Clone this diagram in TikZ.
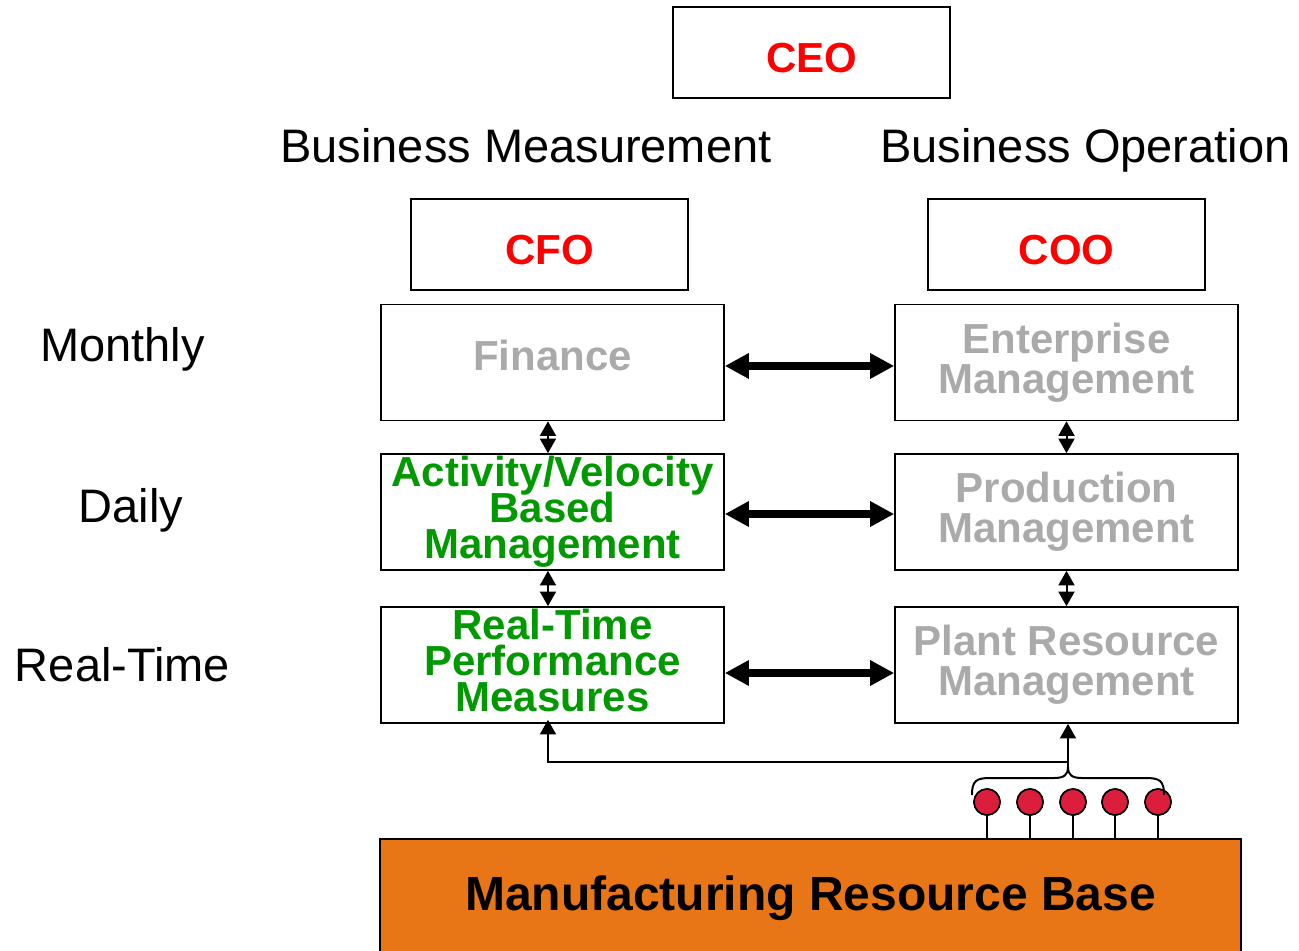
\documentclass[tikz,border=0pt]{standalone}
\usepackage{fontspec}
\setmainfont{Liberation Sans}
\usepackage{xcolor}
\usepackage{tikz}
\usetikzlibrary{arrows.meta}
\definecolor{chiefred}{RGB}{255,0,0}
\definecolor{levelgreen}{RGB}{0,153,0}
\definecolor{levelgray}{RGB}{170,170,170}
\definecolor{baseorange}{RGB}{232,117,22}
\definecolor{pinred}{RGB}{220,30,60}
\newcommand{\tightskip}{\setlength{\lineskiplimit}{-20pt}\setlength{\lineskip}{0pt}}

\begin{document}
\begin{tikzpicture}[x=0.75pt,y=0.75pt,yscale=-1,xscale=1,
  chiefbox/.style={draw, line width=1.5pt, minimum width=207.75pt, minimum height=68.25pt, inner sep=0pt,
    font=\fontsize{31.5}{36}\selectfont\bfseries, text=chiefred, text height=30pt, text depth=0pt},
  levelbox/.style={draw, line width=1.2pt, minimum width=257.25pt, minimum height=87pt, inner sep=0pt, align=center},
  graytext/.style={font=\fontsize{31.5}{30}\selectfont\bfseries\tightskip, text=levelgray},
  greentext/.style={font=\fontsize{31.5}{27}\selectfont\bfseries\tightskip, text=levelgreen, text depth=7pt},
  headtext/.style={font=\fontsize{35.25}{40}\selectfont, anchor=base, inner sep=0pt},
  wide/.style={{Triangle[length=18pt,width=18pt]}-{Triangle[length=18pt,width=18pt]}, line width=5.5pt},
  link/.style={{Triangle[length=11pt,width=12pt]}-{Triangle[length=11pt,width=12pt]}, line width=1.5pt},
  feed/.style={-{Triangle[length=11pt,width=12pt]}, line width=1.5pt},
  pin/.style={circle, draw, fill=pinred, line width=1.2pt, minimum size=19.5pt, inner sep=0pt},
]
\useasboundingbox (0,0) rectangle (1299,950);

%Chief officers
\node [chiefbox] (ceo) at (811.5,52.5) {CEO};
\node [chiefbox] (cfo) at (549.5,244.5) {CFO};
\node [chiefbox] (coo) at (1066.5,244) {COO};

% Text Node
\node [headtext] (meas) at (526,162) {Business Measurement};
% Text Node
\node [headtext] (oper) at (1085.5,162) {Business Operation};
% Text Node
\node [headtext] (monthly) at (122.5,361) {Monthly};
% Text Node
\node [headtext] (daily) at (131,522) {Daily};
% Text Node
\node [headtext] (realtime) at (122.5,681) {Real-Time};

%Measurement column
\node [levelbox, graytext, text depth=10.5pt] (fin) at (552.5,362.5) {Finance};
\node [levelbox, greentext] (act) at (552.5,512) {Activity/Velocity\\Based\\Management};
\node [levelbox, greentext] (rtm) at (552.5,665) {Real-Time\\Performance\\Measures};

%Operation column
\node [levelbox, graytext] (ent) at (1066.5,362.5) {Enterprise\\Management};
\node [levelbox, graytext] (prod) at (1066.5,512) {Production\\Management};
\node [levelbox, graytext] (plant) at (1066.5,665) {Plant Resource\\Management};

%Level arrows
\draw [wide] ([yshift=2.6pt]fin.east) -- ([yshift=2.6pt]ent.west);
\draw [wide] ([yshift=1.5pt]act.east) -- ([yshift=1.5pt]prod.west);
\draw [wide] ([yshift=6pt]rtm.east) -- ([yshift=6pt]plant.west);
\draw [link] ([xshift=-3.4pt]fin.south) -- ([xshift=-3.4pt]act.north);
\draw [link] ([xshift=-3.4pt]act.south) -- ([xshift=-3.4pt]rtm.north);
\draw [link] (ent.south) -- (prod.north);
\draw [link] (prod.south) -- (plant.north);

%Shape: Rectangle
\node [draw, line width=1.2pt, fill=baseorange, minimum width=645.75pt, minimum height=88.5pt, inner sep=0pt,
  font=\fontsize{36}{40}\selectfont\bfseries] (base) at (810.5,898) {Manufacturing Resource Base};

%Sensor pins
\foreach \i/\x in {1/987,2/1030,3/1073,4/1115,5/1158}{
  \node [pin] (p\i) at (\x,802) {};
  \draw [line width=1.2pt] (p\i.center) -- (p\i.center |- base.north);
  \node [pin] at (p\i) {};
}

%Brace
\coordinate (tip) at (1068,767);
\coordinate (split) at (1068,762);
\draw [line width=1.5pt] (972,795) .. controls (972,781) and (976,778) .. (990,778) -- (1054,778) .. controls (1064,778) and (1068,775) .. (tip) .. controls (1068,775) and (1072,778) .. (1082,778) -- (1146,778) .. controls (1160,778) and (1164,781) .. (1164,795);

%Feed lines
\draw [feed] (tip) -- (plant.south -| tip);
\draw [feed] (split) -| ([xshift=-3.4pt,yshift=-3pt]rtm.south);

\end{tikzpicture}
\end{document}
